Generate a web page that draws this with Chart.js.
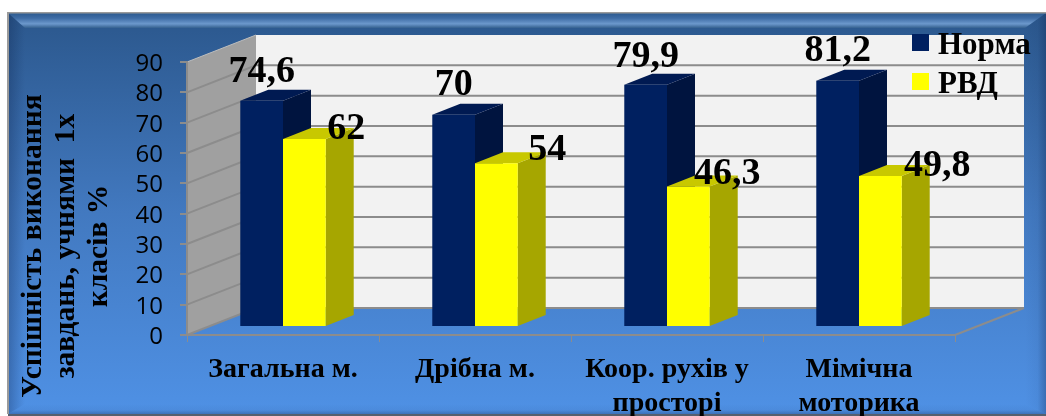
<!DOCTYPE html>
<html><head><meta charset="utf-8">
<style>html,body{margin:0;padding:0;background:#fff}canvas{display:block}</style>
<script src="https://cdn.jsdelivr.net/npm/chart.js@4"></script>
</head><body>
<div style="width:1046px;height:416px"><canvas id="c" width="1046" height="416"></canvas></div>
<script>
const categories = [['Загальна м.'], ['Дрібна м.'], ['Коор. рухів у', 'просторі'], ['Мімічна', 'моторика']];
const normaValues = [74.6, 70, 79.9, 81.2];
const rvdValues = [62, 54, 46.3, 49.8];
const yTicks = [0,10,20,30,40,50,60,70,80,90];
const yTitleLines = ['Успішність виконання', 'завдань, учнями  1х', 'класів %'];
const seriesNames = ['Норма', 'РВД'];

const SERIF = '"Liberation Serif", serif';
const WALL = {dx: 69, dy: -27};
const BAR_DEPTH = {dx: 28, dy: -11};
const BAR_SHIFT_Y = -8;
const FACES = [{front:'#002060', top:'#001a52', side:'#00143f'}, {front:'#ffff00', top:'#c8c800', side:'#a6a600'}];
const LABEL_NUDGE = [[[0,-19],[0,-20],[0,-18],[0,-20]], [[42,0],[51,-3],[39,-3],[57,0]]];

function poly(ctx, pts, fill){ ctx.beginPath(); pts.forEach((p,i)=> i?ctx.lineTo(p[0],p[1]):ctx.moveTo(p[0],p[1])); ctx.closePath(); ctx.fillStyle=fill; ctx.fill(); }
function lin(ctx,x0,y0,x1,y1,stops){ const g=ctx.createLinearGradient(x0,y0,x1,y1); stops.forEach(s=>g.addColorStop(s[0],s[1])); return g; }
function swatch(color){ const c=document.createElement('canvas'); c.width=17; c.height=23; const x=c.getContext('2d'); x.fillStyle=color; x.fillRect(0,0,17,17); return c; }

const chart3d = {
  id:'chart3d',
  afterLayout(chart){
    const l = chart.legend; if(!l) return;
    l.left = 910.5; l.top = 22; l.right = 1046; l.bottom = 133; l.width=135.5; l.height=111;
    l.adjustHitBoxes && l.adjustHitBoxes();
  },
  beforeDraw(chart){
    const ctx = chart.ctx, W=1046, H=416;
    const L=8,T=13,R=1046,B=414, IL=25,IT=28,IR=1025,IB=404;
    ctx.save();
    ctx.fillStyle='#fff'; ctx.fillRect(0,0,W,H);
    ctx.fillStyle=lin(ctx,0,T,0,B,[[0,'#2b578c'],[.5,'#4279c0'],[1,'#4f91e5']]);
    ctx.fillRect(L,T,R-L,B-T);
    // bevels
    poly(ctx,[[L,T],[R,T],[IR,IT],[IL,IT]],lin(ctx,0,T,0,IT,[[0,'#2c5a8f'],[.35,'#3f6da6'],[.72,'#6c98cc'],[1,'#34608f']]));
    poly(ctx,[[L,T],[IL,IT],[IL,IB],[L,B]],lin(ctx,L,0,IL,0,[[0,'rgba(10,30,70,.3)'],[.7,'rgba(10,30,70,.08)'],[1,'rgba(10,30,70,0)']]));
    poly(ctx,[[R,T],[IR,IT],[IR,IB],[R,B]],lin(ctx,IR,0,R,0,[[0,'rgba(10,30,70,0)'],[.6,'rgba(10,30,70,.05)'],[1,'rgba(10,30,70,.3)']]));
    poly(ctx,[[L,B],[IL,IB],[IR,IB],[R,B]],lin(ctx,0,IB,0,B,[[0,'rgba(10,30,70,0)'],[.6,'rgba(10,30,70,.05)'],[1,'rgba(10,30,70,.28)']]));
    ctx.fillStyle='#9a9a9a'; ctx.fillRect(7,12,2,B-12); ctx.fillRect(7,12,W-7,1.5);
    ctx.fillStyle='#555f6e'; ctx.fillRect(L,B,R-L,2);

    // walls and floor edge, taken from the chart's own scales
    const a=chart.chartArea, y=chart.scales.y, d=WALL;
    const y0=y.getPixelForValue(0), yT=y.getPixelForValue(90);
    poly(ctx,[[a.left,y0],[a.left,yT],[a.left+d.dx,yT+d.dy],[a.left+d.dx,y0+d.dy]],'#a0a0a0');
    poly(ctx,[[a.left+d.dx,yT+d.dy],[a.right+d.dx,yT+d.dy],[a.right+d.dx,y0+d.dy],[a.left+d.dx,y0+d.dy]],'#f2f2f2');
    ctx.strokeStyle='#8c8c8c'; ctx.lineWidth=2;
    yTicks.slice(0,-1).forEach(v=>{ const p=y.getPixelForValue(v);
      ctx.beginPath(); ctx.moveTo(a.left,p); ctx.lineTo(a.left+d.dx,p+d.dy); ctx.lineTo(a.right+d.dx,p+d.dy); ctx.stroke(); });
    ctx.strokeStyle='#bdbdbd'; ctx.lineWidth=1;
    ctx.beginPath(); ctx.moveTo(a.left,yT); ctx.lineTo(a.left+d.dx,yT+d.dy); ctx.stroke();
    ctx.strokeStyle='#8c8c8c'; ctx.lineWidth=2;
    ctx.beginPath(); ctx.moveTo(a.right,y0); ctx.lineTo(a.right+d.dx,y0+d.dy); ctx.stroke();

    // axis title
    ctx.fillStyle='#000'; ctx.font='bold 29.5px '+SERIF; ctx.textAlign='center'; ctx.textBaseline='middle';
    yTitleLines.forEach((t,i)=>{ ctx.save(); ctx.translate(33+i*33,246); ctx.rotate(-Math.PI/2); ctx.fillText(t,0,0); ctx.restore(); });
    ctx.restore();
  },
  beforeDatasetsDraw(chart){
    const ctx=chart.ctx, b=BAR_DEPTH;
    [0,1].forEach(ds=>{
      chart.getDatasetMeta(ds).data.forEach(el=>{
        const x0=el.x-el.width/2, x1=el.x+el.width/2, yt=el.y+BAR_SHIFT_Y, yb=el.base+BAR_SHIFT_Y, f=FACES[ds];
        poly(ctx,[[x1,yt],[x1+b.dx,yt+b.dy],[x1+b.dx,yb+b.dy],[x1,yb]],f.side);
        poly(ctx,[[x0,yt],[x1,yt],[x1+b.dx,yt+b.dy],[x0+b.dx,yt+b.dy]],f.top);
      });
    });
    ctx.save(); ctx.translate(0,BAR_SHIFT_Y);
  },
  afterDatasetsDraw(chart){
    const ctx=chart.ctx; ctx.restore();
    ctx.save(); ctx.fillStyle='#000'; ctx.font='bold 38px '+SERIF; ctx.textAlign='center'; ctx.textBaseline='alphabetic';
    [normaValues,rvdValues].forEach((vals,ds)=>{
      chart.getDatasetMeta(ds).data.forEach((el,i)=>{
        const n=LABEL_NUDGE[ds][i];
        ctx.fillText(String(vals[i]).replace('.',','), el.x+n[0], el.y+BAR_SHIFT_Y+n[1]);
      });
    });
    ctx.restore();
  }
};

new Chart(document.getElementById('c'),{
  type:'bar',
  data:{labels:categories,datasets:[
    {label:seriesNames[0],data:normaValues,backgroundColor:FACES[0].front,borderWidth:0,clip:false},
    {label:seriesNames[1],data:rvdValues,backgroundColor:FACES[1].front,borderWidth:0,clip:false}
  ]},
  plugins:[chart3d],
  options:{
    responsive:false,animation:false,
    layout:{padding:{left:0,top:62,right:91,bottom:0}},
    datasets:{bar:{categoryPercentage:.445,barPercentage:1}},
    plugins:{
      tooltip:{enabled:false},
      legend:{position:'chartArea',align:'start',labels:{
        usePointStyle:true,boxWidth:4,boxHeight:17,padding:8,color:'#000',
        font:{family:SERIF,size:31,weight:'bold',lineHeight:1},
        generateLabels(chart){
          return Chart.defaults.plugins.legend.labels.generateLabels(chart).map((it,i)=>Object.assign(it,{pointStyle:swatch(FACES[i].front)}));
        }
      }}
    },
    scales:{
      x:{afterFit(s){s.height=81;},
        grid:{drawOnChartArea:false,color:'#8c8c8c',lineWidth:1,tickLength:7},
        border:{color:'#8c8c8c',width:2},
        ticks:{color:'#000',padding:11,maxRotation:0,autoSkip:false,font:{family:SERIF,size:28,weight:'bold',lineHeight:1.21}}},
      y:{min:0,max:90,afterFit(s){s.width=187;},
        grid:{drawOnChartArea:false,color:'#8c8c8c',lineWidth:2,tickLength:7},
        border:{color:'#8c8c8c',width:2},
        ticks:{color:'#000',padding:17,stepSize:10,autoSkip:false,labelOffset:2,font:{family:'"Open Sans",sans-serif',size:24}}}
    }
  }
});
</script>
</body></html>
